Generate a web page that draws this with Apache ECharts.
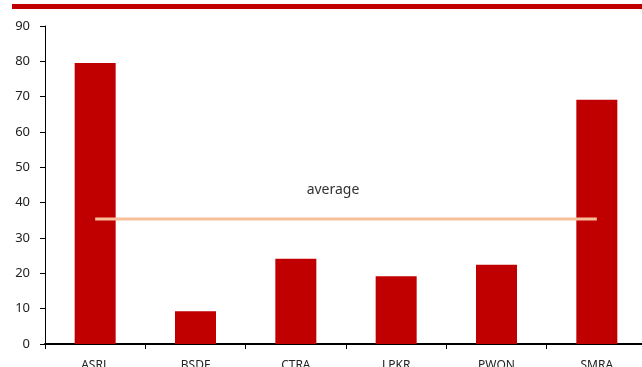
<!DOCTYPE html>
<html>
<head>
<meta charset="utf-8">
<script src="https://cdn.jsdelivr.net/npm/echarts@6/dist/echarts.min.js"></script>
<style>
  html, body { margin: 0; padding: 0; background: #fff; overflow: hidden; }
  #chart { width: 642px; height: 367px; }
</style>
</head>
<body>
<div id="chart"></div>
<script>
// Developers' values by ticker, with the sector average drawn across them
const categories = ['ASRL', 'BSDF', 'CTRA', 'LPKR', 'PWON', 'SMRA'];
const values = [79.5, 9.3, 24.1, 19.2, 22.4, 69.1];
const averageValue = 35.4;
const averageLine = categories.map(() => averageValue);
const yTicks = { min: 0, max: 90, interval: 10 };

const chart = echarts.init(document.getElementById('chart'), null, { renderer: 'canvas' });
const font = '"Noto Sans", "Open Sans", sans-serif';

chart.setOption({
  animation: false,
  backgroundColor: '#ffffff',
  grid: { left: 45, top: 26, width: 602, height: 318, outerBoundsMode: 'none' },
  graphic: [
    {
      type: 'rect',
      shape: { x: 12, y: 4, width: 630, height: 5 },
      style: { fill: '#C00000' },
      silent: true
    },
    {
      type: 'text',
      style: {
        text: 'average', x: 333, y: 190,
        align: 'center', verticalAlign: 'middle',
        font: '14px ' + font, fill: '#333333'
      },
      silent: true
    }
  ],
  xAxis: {
    type: 'category',
    data: categories,
    axisLine: { lineStyle: { color: '#000', width: 2 } },
    axisTick: { show: true, length: 5, lineStyle: { color: '#000' } },
    axisLabel: { color: '#222', fontSize: 12, fontFamily: font, margin: 16 }
  },
  yAxis: {
    type: 'value',
    min: yTicks.min, max: yTicks.max, interval: yTicks.interval,
    splitLine: { show: false },
    axisLine: { show: true, lineStyle: { color: '#000', width: 1 } },
    axisTick: { show: true, length: 5, lineStyle: { color: '#000' } },
    axisLabel: { color: '#222', fontSize: 13, fontFamily: font, margin: 15 }
  },
  series: [
    {
      type: 'bar',
      data: values,
      barWidth: 41,
      itemStyle: { color: '#C00000' }
    },
    {
      type: 'line',
      data: averageLine,
      symbol: 'none',
      lineStyle: { color: '#F8C09A', width: 3 },
      z: 3
    }
  ]
});
</script>
</body>
</html>
